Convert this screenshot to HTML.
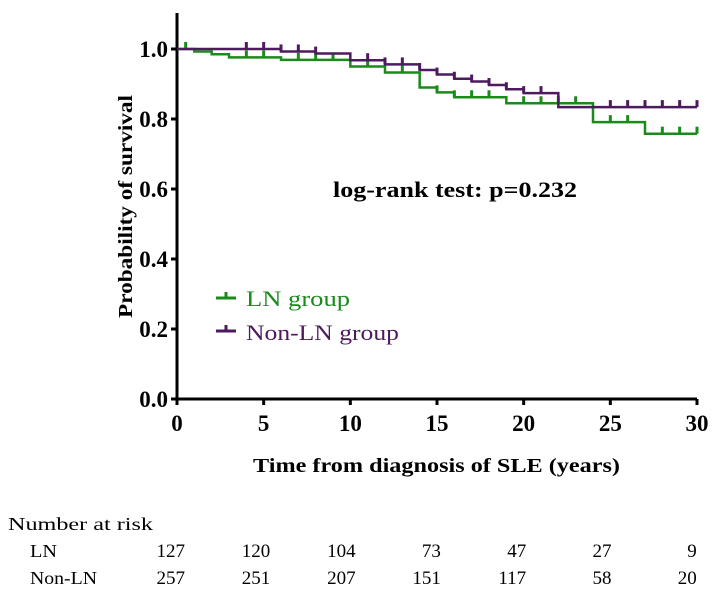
<!DOCTYPE html>
<html><head><meta charset="utf-8"><style>
html,body{margin:0;padding:0;background:#fff;}
svg{display:block;font-family:"Palatino Linotype","Liberation Serif",serif;}
</style></head><body>
<svg id="chart" width="717" height="599" viewBox="0 0 717 599">
<g id="axes"></g>
<g id="series"></g>
<text x="333" y="197" textLength="244" lengthAdjust="spacingAndGlyphs" font-weight="bold" font-size="22">log-rank test: p=0.232</text>
<g>
 <g>
  <path d="M216 298 H236 M226 298 V292" stroke="#1a8a1a" stroke-width="3" fill="none"/>
  <text x="246" y="306" textLength="104" lengthAdjust="spacingAndGlyphs" fill="#1a8a1a" font-size="22">LN group</text>
 </g>
 <g>
  <path d="M216 331 H236 M226 331 V325" stroke="#4d1a5e" stroke-width="3" fill="none"/>
  <text x="246" y="340" textLength="153" lengthAdjust="spacingAndGlyphs" fill="#4d1a5e" font-size="22">Non-LN group</text>
 </g>
</g>
<text x="253" y="472" textLength="367" lengthAdjust="spacingAndGlyphs" font-weight="bold" font-size="20">Time from diagnosis of SLE (years)</text>
<text transform="translate(132,318) rotate(-90)" textLength="223" lengthAdjust="spacingAndGlyphs" font-weight="bold" font-size="20">Probability of survival</text>
<g id="risk" font-size="18">
 <text x="8" y="530" textLength="145" lengthAdjust="spacingAndGlyphs">Number at risk</text>
 <text x="30" y="557" textLength="27" lengthAdjust="spacingAndGlyphs">LN</text>
 <text x="30" y="584" textLength="67" lengthAdjust="spacingAndGlyphs">Non-LN</text>
</g>
</svg>
<script>
const greenTimes=[0,1,2,3,6,10,12,14,15,16,19,24,27];
const greenSurv=[1,0.993,0.985,0.976,0.969,0.95,0.933,0.89,0.876,0.862,0.845,0.791,0.758];
const greenCensor=[0.5,4,5,7,8,9,11,13,15,16,17,18,20,21,22,23,25,26,28,29,30];
const purpleTimes=[0,6,8,10,12,14,15,16,17,18,19,20,22];
const purpleSurv=[1,0.993,0.987,0.968,0.956,0.94,0.927,0.915,0.907,0.897,0.885,0.874,0.834];
const purpleCensor=[4,5,6,7,8,11,12,13,14,15,16,17,18,19,20,21,25,26,27,28,29,30];
const xTicks=[0,5,10,15,20,25,30];
const yTicks=[0,0.2,0.4,0.6,0.8,1.0];
const riskLN=[127,120,104,73,47,27,9];
const riskNonLN=[257,251,207,151,117,58,20];
const NS="http://www.w3.org/2000/svg";
const X=t=>177+t*(520/30);
const Y=s=>399-s*350;
function el(tag,attrs,parent){const e=document.createElementNS(NS,tag);for(const k in attrs)e.setAttribute(k,attrs[k]);parent.appendChild(e);return e;}
const axes=document.getElementById('axes');
let a=el('path',{d:`M177 13 V399 H697`,stroke:'#000','stroke-width':3,fill:'none'},axes);


xTicks.forEach(t=>{
 const l=el('line',{x1:X(t),x2:X(t),y1:399,y2:405,stroke:'#000','stroke-width':3},axes);
 
 
 const tx=el('text',{x:X(t),y:431,'text-anchor':'middle','font-weight':'bold','font-size':23},axes);
 tx.textContent=t;
 
 
});
yTicks.forEach(s=>{
 const l=el('line',{x1:171,x2:177,y1:Y(s),y2:Y(s),stroke:'#000','stroke-width':3},axes);
 
 
 const tx=el('text',{x:168,y:Y(s)+8,'text-anchor':'end','font-weight':'bold','font-size':23},axes);
 tx.textContent=s.toFixed(1);
 
 
});
const series=document.getElementById('series');
function survAt(times,surv,t){let v=surv[0];for(let i=0;i<times.length;i++){if(times[i]<=t)v=surv[i];}return v;}
function draw(times,surv,cens,color,name){
 let d=`M${X(times[0])} ${Y(surv[0])}`;
 for(let i=1;i<times.length;i++){d+=` H${X(times[i])} V${Y(surv[i])}`;}
 d+=` H${X(30)}`;
 const p=el('path',{d:d,stroke:color,'stroke-width':2.5,fill:'none'},series);
 
 
 cens.forEach(t=>{
  const s=survAt(times,surv,t);
  const c=el('line',{x1:X(t),x2:X(t),y1:Y(s),y2:Y(s)-7,stroke:color,'stroke-width':3},series);
  
  
 });
}
draw(greenTimes,greenSurv,greenCensor,'#1a8a1a','ln');
draw(purpleTimes,purpleSurv,purpleCensor,'#4d1a5e','non-ln');
const risk=document.getElementById('risk');
function riskRow(vals,y,name){vals.forEach((v,i)=>{
 const t=el('text',{x:185+i*85.3,y:y,'text-anchor':'end','font-size':19},risk);
 t.textContent=v;
 
 
});}
riskRow(riskLN,557,'risk-ln-value');
riskRow(riskNonLN,584,'risk-non-ln-value');
</script>
</body></html>
